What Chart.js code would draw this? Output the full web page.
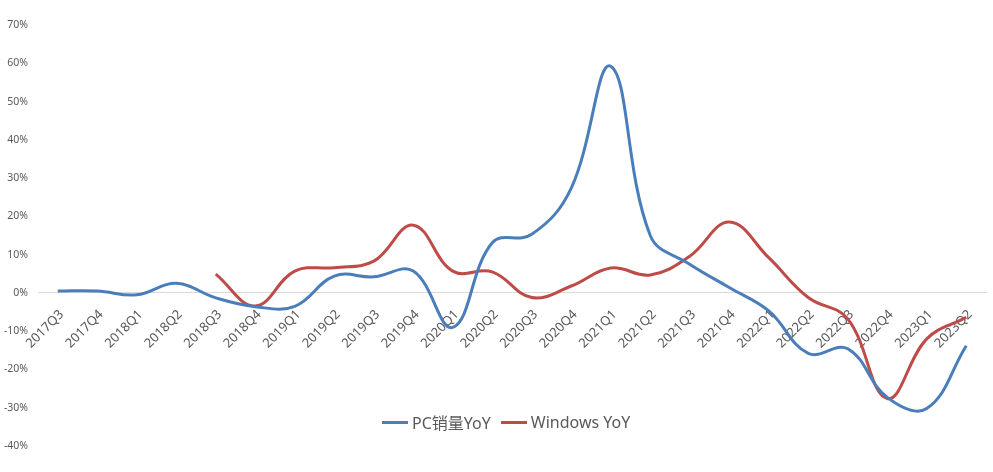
<!DOCTYPE html>
<html>
<head>
<meta charset="utf-8">
<script src="https://cdn.jsdelivr.net/npm/chart.js@4/dist/chart.umd.min.js"></script>
<style>
    html, body { margin: 0; padding: 0; background: #fff; }
    #wrap { position: relative; width: 993px; height: 472px; }
    #legend { position: absolute; left: 382px; top: 410px; display: flex; align-items: center;
              font: 16px "Noto Sans", "Noto Sans CJK SC", sans-serif; color: #595959; white-space: nowrap; }
    #legend .item { display: flex; align-items: center; margin-right: 10px; }
    #legend .swatch { width: 26px; height: 3px; margin-right: 4px; }
</style>
</head>
<body>
<div id="wrap">
    <canvas id="chart" width="993" height="472"></canvas>
    <div id="legend"></div>
</div>
<script>
// categories
const quarters = ['2017Q3', '2017Q4', '2018Q1', '2018Q2', '2018Q3', '2018Q4', '2019Q1', '2019Q2',
    '2019Q3', '2019Q4', '2020Q1', '2020Q2', '2020Q3', '2020Q4', '2021Q1', '2021Q2',
    '2021Q3', '2021Q4', '2022Q1', '2022Q2', '2022Q3', '2022Q4', '2023Q1', '2023Q2'];

// series values, in percent
const pcYoY = [0.5, 0.5, -0.5, 2.5, -1.3, -3.6, -3.5, 4.4, 4.2, 5.7, -9.0, 13.1,
    15.3, 27.4, 59.2, 15.0, 7.5, 1.4, -4.7, -15.8, -14.6, -27.3, -30.2, -13.8];
const windowsYoY = [null, null, null, null, 4.9, -3.4, 5.7, 6.6, 8.3, 17.7, 5.7, 5.5,
    -1.2, 1.8, 6.5, 4.7, 9.6, 18.5, 9.2, -1.2, -6.8, -27.6, -12.0, -6.4];

const seriesNames = ['PC销量YoY', 'Windows YoY'];

const Colors = {
    blue: '#4A7EBB',
    red: '#BE4B48',
    text: '#595959',
    axis: '#D9D9D9'
};
const FONT = '"Noto Sans", "Noto Sans CJK SC", sans-serif';

const ctx = document.getElementById('chart').getContext('2d');

const chart = new Chart(ctx, {
    type: 'line',
    data: {
        labels: quarters,
        datasets: [{
            label: seriesNames[0],
            data: pcYoY,
            borderColor: Colors.blue,
            backgroundColor: Colors.blue,
            borderWidth: 3,
            pointRadius: 0,
            tension: 0.4
        }, {
            label: seriesNames[1],
            data: windowsYoY,
            borderColor: Colors.red,
            backgroundColor: Colors.red,
            borderWidth: 3,
            pointRadius: 0,
            tension: 0.4
        }]
    },
    options: {
        responsive: false,
        animation: false,
        layout: { padding: { left: 0, right: 7, top: 25, bottom: 26 } },
        plugins: {
            legend: { display: false },
            tooltip: { enabled: false }
        },
        scales: {
            x: {
                position: { y: 0 },
                offset: true,
                grid: { display: false },
                border: { display: true, color: Colors.axis, width: 1 },
                ticks: {
                    autoSkip: false,
                    minRotation: 45,
                    maxRotation: 45,
                    padding: 6,
                    labelOffset: 4,
                    color: Colors.text,
                    font: { family: FONT, size: 13 }
                },
                // axis sits on the zero line, so it should not take layout space
                afterFit: (scale) => {
                    scale.height = 0;
                    scale.paddingLeft = 0;
                    scale.paddingRight = 0;
                }
            },
            y: {
                min: -40,
                max: 70,
                grid: { display: false, drawTicks: false },
                border: { display: false },
                ticks: {
                    stepSize: 10,
                    padding: 10,
                    color: Colors.text,
                    font: { family: FONT, size: 10.5 },
                    callback: (v) => v + '%'
                },
                afterFit: (scale) => { scale.width = 38; }
            }
        }
    }
});

// html legend built from the datasets
const legendEl = document.getElementById('legend');
chart.data.datasets.forEach(ds => {
    const item = document.createElement('div');
    item.className = 'item';
    const sw = document.createElement('span');
    sw.className = 'swatch';
    sw.style.background = ds.borderColor;
    const label = document.createElement('span');
    label.textContent = ds.label;
    item.appendChild(sw);
    item.appendChild(label);
    legendEl.appendChild(item);
});
</script>
</body>
</html>
